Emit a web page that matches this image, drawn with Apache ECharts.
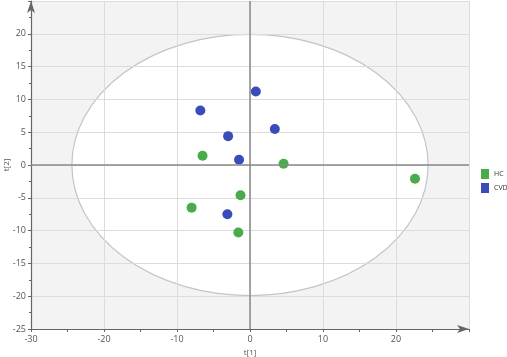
<!DOCTYPE html>
<html>
<head>
<meta charset="utf-8">
<script src="https://cdn.jsdelivr.net/npm/echarts@6/dist/echarts.min.js"></script>
<style>html,body{margin:0;padding:0;background:#fff;}#c{width:507px;height:357px;}</style>
</head>
<body>
<div id="c"></div>
<script>
// Data
const hcT1 = [-6.5, 4.6, 22.6, -1.3, -8.0, -1.6];
const hcT2 = [1.4, 0.2, -2.1, -4.6, -6.5, -10.3];
const cvdT1 = [0.8, -6.8, 3.4, -3.0, -1.5, -3.1];
const cvdT2 = [11.2, 8.3, 5.5, 4.4, 0.8, -7.5];
const xTicks = [-30, -20, -10, 0, 10, 20];
const yTicks = [-25, -20, -15, -10, -5, 0, 5, 10, 15, 20];
// Hotelling ellipse semi-axes (in data units)
const ellipseA = 24.4;
const ellipseB = 19.9;

const hcData = hcT1.map((v, i) => [v, hcT2[i]]);
const cvdData = cvdT1.map((v, i) => [v, cvdT2[i]]);

const chart = echarts.init(document.getElementById('c'), null, {renderer: 'canvas'});
const font = '"Open Sans", "DejaVu Sans", sans-serif';
chart.setOption({
  animation: false,
  backgroundColor: '#fff',
  grid: {left: 31, right: 38, top: 1, bottom: 28, containLabel: false, outerBoundsMode: 'none'},
  legend: {
    orient: 'vertical', left: 476, top: 164, itemWidth: 8, itemHeight: 10, itemGap: 4,
    icon: 'rect',
    textStyle: {fontSize: 7, color: '#333', fontFamily: font},
    data: ['HC', 'CVD']
  },
  xAxis: {
    type: 'value', min: -30, max: 30, interval: 10,
    name: 't[1]', nameLocation: 'middle', nameGap: 20, nameMoveOverlap: false,
    nameTextStyle: {fontSize: 8, color: '#555', fontFamily: font},
    axisLine: {onZero: false, show: true, symbol: ['none', 'arrow'], symbolSize: [6, 12], lineStyle: {color: '#666', width: 1.2}},
    axisTick: {show: true, length: 3, lineStyle: {color: '#666'}},
    minorTick: {show: true, splitNumber: 2, length: 3, lineStyle: {color: '#666'}},
    axisLabel: {fontSize: 9, color: '#555', fontFamily: font, margin: 6,
      formatter: v => xTicks.indexOf(v) >= 0 ? String(v) : ''},
    splitLine: {show: true, lineStyle: {color: '#dcdcdc', width: 1}}
  },
  yAxis: {
    type: 'value', min: -25, max: 25, interval: 5,
    name: 't[2]', nameLocation: 'middle', nameGap: 20, nameRotate: 90, nameMoveOverlap: false,
    nameTextStyle: {fontSize: 8, color: '#555', fontFamily: font},
    axisLine: {onZero: false, show: true, symbol: ['none', 'arrow'], symbolSize: [6, 12], lineStyle: {color: '#666', width: 1.2}},
    axisTick: {show: true, length: 3, lineStyle: {color: '#666'}},
    minorTick: {show: true, splitNumber: 2, length: 2, lineStyle: {color: '#666'}},
    axisLabel: {fontSize: 9, color: '#555', fontFamily: font, margin: 5,
      formatter: v => yTicks.indexOf(v) >= 0 ? String(v) : ''},
    splitLine: {show: true, lineStyle: {color: '#dcdcdc', width: 1}}
  },
  series: [
    {
      type: 'custom', z: -1, silent: true,
      data: [[0, 0]],
      renderItem: function (params, api) {
        const cs = params.coordSys;
        const c = api.coord([api.value(0), api.value(1)]);
        const s = api.size([ellipseA, ellipseB]);
        const rx = s[0], ry = s[1];
        return {
          type: 'group',
          children: [
            {type: 'rect', shape: {x: cs.x, y: cs.y, width: cs.width, height: cs.height}, style: {fill: '#f3f3f3'}},
            {type: 'path', shape: {
                pathData: 'M' + (c[0] - rx) + ' ' + c[1] +
                  ' A' + rx + ' ' + ry + ' 0 1 0 ' + (c[0] + rx) + ' ' + c[1] +
                  ' A' + rx + ' ' + ry + ' 0 1 0 ' + (c[0] - rx) + ' ' + c[1] + ' Z'
              },
              style: {fill: '#ffffff', stroke: '#c4c4c4', lineWidth: 1.2}}
          ]
        };
      }
    },
    {
      name: 'HC', type: 'scatter', data: hcData, symbolSize: 10,
      itemStyle: {color: '#4aab4a', opacity: 1},
      markLine: {
        silent: true, symbol: ['none', 'none'], label: {show: false},
        lineStyle: {color: '#8a8a8a', width: 1.5, type: 'solid'},
        data: [{xAxis: 0}, {yAxis: 0}]
      }
    },
    {
      name: 'CVD', type: 'scatter', data: cvdData, symbolSize: 10,
      itemStyle: {color: '#3a4cb8', opacity: 1}
    }
  ]
});
</script>
</body>
</html>
